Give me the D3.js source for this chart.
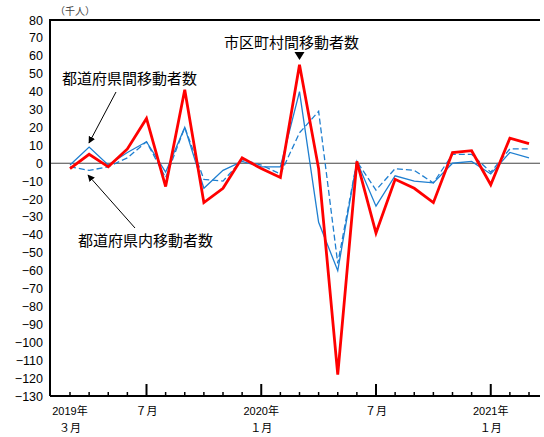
<!DOCTYPE html>
<html><head><meta charset="utf-8">
<script src="https://cdn.jsdelivr.net/npm/d3@7"></script>
<style>body{margin:0;background:#fff}text{font-family:"Liberation Sans","Noto Sans CJK JP",sans-serif}</style>
</head><body><svg id="c" width="544" height="437"></svg>
<script>
// 2019-03 .. 2021-03, 千人
const months = d3.range(25);
const municipal = [-3, 5, -2, 8, 25, -13, 41, -22, -14, 3, -3, -8, 55, -3, -118, 1, -39, -9, -14, -22, 6, 7, -12, 14, 11];
const interPref = [-1, 9, -1, 6, 12, -5, 20, -14, -4, 1, -2, -2, 40, -33, -60, 1, -24, -7, -10, -11, 0, 1, -6, 6, 3];
const intraPref = [-2, -4, -2, 3, 12, -8, 20, -9, -10, 2, -1, -6, 17, 29, -56, 1, -15, -3, -4, -11, 5, 5, -5, 8, 8];
const yTicks = d3.range(-130, 81, 10);
const xLabels = [[0, "2019年", "３月"], [4, "７月", ""], [10, "2020年", "１月"], [16, "７月", ""], [22, "2021年", "１月"]];

const svg = d3.select("#c");
const mL = 50, mR = 540, mT = 20, mB = 396;
const x = d3.scaleLinear().domain([0, 24]).range([70, 529]);
const y = d3.scaleLinear().domain([-130, 80]).range([mB, mT]);

svg.append("g").attr("transform", `translate(${mL},0)`)
  .call(d3.axisLeft(y).tickValues(yTicks).tickSize(0).tickPadding(7).tickFormat(d => d < 0 ? "−" + (-d) : d))
  .call(g => g.select(".domain").remove())
  .selectAll("text").attr("font-size", 12.5).attr("fill", "#000");

// zero line and frame
svg.append("line").attr("x1", mL).attr("x2", mR).attr("y1", y(0)).attr("y2", y(0)).attr("stroke", "#444").attr("stroke-width", 1);
svg.append("line").attr("x1", mL).attr("x2", mR).attr("y1", mT).attr("y2", mT).attr("stroke", "#000").attr("stroke-width", 2);
svg.append("line").attr("x1", mL).attr("x2", mL).attr("y1", mT - 1).attr("y2", mB).attr("stroke", "#000").attr("stroke-width", 2);
svg.append("line").attr("x1", mL).attr("x2", mR).attr("y1", mB).attr("y2", mB).attr("stroke", "#000").attr("stroke-width", 2);

// ticks
const majors = xLabels.map(d => d[0]).filter(i => i > 0);
months.forEach(i => {
  const maj = majors.includes(i);
  svg.append("line").attr("x1", x(i)).attr("x2", x(i)).attr("y1", mB).attr("y2", mB - (maj ? 12 : 4))
    .attr("stroke", "#000").attr("stroke-width", maj ? 2 : 1.5);
});
xLabels.forEach(([i, a, b]) => {
  svg.append("text").attr("x", x(i)).attr("y", 415).attr("text-anchor", "middle").attr("font-size", 11).text(a);
  if (b) svg.append("text").attr("x", x(i)).attr("y", 432).attr("text-anchor", "middle").attr("font-size", 11).text(b);
});

const line = d3.line().x((d, i) => x(i)).y(d => y(d));
svg.append("path").datum(intraPref).attr("d", line).attr("fill", "none").attr("stroke", "#1f7fd0").attr("stroke-width", 1.3).attr("stroke-dasharray", "6,3");
svg.append("path").datum(interPref).attr("d", line).attr("fill", "none").attr("stroke", "#1f7fd0").attr("stroke-width", 1.3);
svg.append("path").datum(municipal).attr("d", line).attr("fill", "none").attr("stroke", "#ff0000").attr("stroke-width", 2.8);

svg.append("text").attr("x", 55).attr("y", 15).attr("font-size", 10).attr("fill", "#444").text("（千人）");

const ann = (t, px, py) => svg.append("text").attr("x", px).attr("y", py).attr("font-size", 15).attr("font-family", "Noto Sans CJK JP").text(t);
ann("市区町村間移動者数", 224, 48);
svg.append("path").attr("d", `M${x(12) - 5},52 L${x(12) + 5},52 L${x(12)},60 Z`).attr("fill", "#000");
ann("都道府県間移動者数", 62, 84);
ann("都道府県内移動者数", 78, 246);

svg.append("defs").append("marker").attr("id", "ar").attr("viewBox", "0 0 10 10").attr("refX", 9).attr("refY", 5)
  .attr("markerWidth", 7).attr("markerHeight", 7).attr("orient", "auto")
  .append("path").attr("d", "M0,0 L10,5 L0,10 Z");
svg.append("line").attr("x1", 116).attr("y1", 92).attr("x2", 89).attr("y2", 143).attr("stroke", "#000").attr("marker-end", "url(#ar)");
svg.append("line").attr("x1", 135).attr("y1", 228).attr("x2", 88).attr("y2", 175).attr("stroke", "#000").attr("marker-end", "url(#ar)");
</script></body></html>
